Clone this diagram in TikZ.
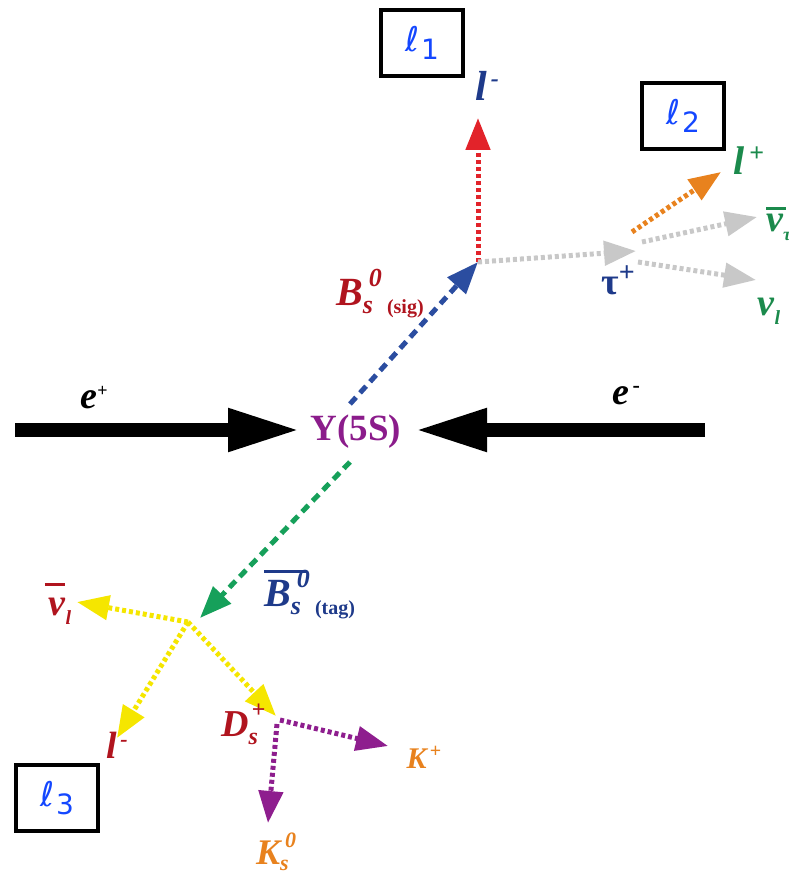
\documentclass[tikz,border=0pt]{standalone}
\usepackage{fontspec}
\setmainfont{Liberation Serif}
\newfontfamily\ellfont{DejaVu Sans}
\usetikzlibrary{arrows.meta}
\definecolor{dred}{HTML}{B0141E}
\definecolor{dblue}{HTML}{1E3A8A}
\definecolor{pgreen}{HTML}{1B8A4C}
\definecolor{porange}{HTML}{E8821E}
\definecolor{ppurple}{HTML}{8E1E8E}
\definecolor{pyellow}{HTML}{F5E600}
\definecolor{pgray}{HTML}{C8C8C8}
\definecolor{pred}{HTML}{E2232A}
\definecolor{dashblue}{HTML}{2B4DA0}
\definecolor{dashgreen}{HTML}{16A05A}
\definecolor{lblue}{HTML}{1447FF}
\definecolor{ypurple}{HTML}{8B1C8B}
\newcommand\fs[1]{\fontsize{#1}{#1}\selectfont}
\newcommand\ellsub[1]{{\itshape ℓ}\hspace{2pt}\raisebox{-8pt}{\upshape\fs{28}#1}}
\tikzset{
  dotln/.style={line width=5pt, dash pattern=on 4pt off 3pt},
  dashln/.style={line width=5pt, dash pattern=on 9pt off 6pt},
  tipx/.style={-{Triangle[length=32pt,width=24pt]}},
  lbl/.style={inner sep=0pt, font=\bfseries\itshape},
  lbox/.style={draw=black, line width=4.5pt, minimum width=82pt, minimum height=66pt, inner sep=0pt, font=\ellfont\fs{34}, text=lblue},
  beam/.style={line width=14pt, -{Triangle[length=72pt,width=40pt]}}
}
\begin{document}
\begin{tikzpicture}[x=1pt,y=-1pt]
\useasboundingbox (0,0) rectangle (788,874);
% boxes
\node[lbox] (L1) at (422,43) {\ellsub{1}};
\node[lbox] (L2) at (683,116) {\ellsub{2}};
\node[lbox] (L3) at (57,798) {\ellsub{3}};
% vertices
\coordinate (vsig) at (478,262);
\coordinate (vtau) at (636,251);
\coordinate (vtag) at (188,622);
\coordinate (vds) at (280,720);
% beams
\node[inner sep=0pt, text=ypurple, font=\bfseries\fs{37}] (Y) at (356,432) {Y(5S)};
\coordinate (beamL) at (15,430);
\coordinate (beamLt) at (300,430);
\coordinate (beamR) at (705,430);
\coordinate (beamRt) at (415,430);
\draw[beam] (beamL) -- (beamLt);
\draw[beam] (beamR) -- (beamRt);
\node[lbl, font=\bfseries\itshape\fs{38}] (ep) at (94,398) {e\raisebox{12pt}{\upshape\fs{18}+}};
\node[lbl, font=\bfseries\itshape\fs{38}] (em) at (626,396) {e\raisebox{12pt}{\upshape\fs{22}\,-}};
% signal side
\coordinate (sigstart) at (350,404);
\draw[dashln, dashblue, tipx] (sigstart) -- (vsig);
\coordinate (l1tip) at (478,118);
\draw[dotln, pred, tipx] (vsig) -- (l1tip);
\draw[dotln, pgray, tipx] (vsig) -- (vtau);
\coordinate (lpst) at (632,232);
\coordinate (lptip) at (721,172);
\draw[dotln, porange, tipx] (lpst) -- (lptip);
\coordinate (nutst) at (642,242);
\coordinate (nuttip) at (757,217);
\draw[dotln, pgray, tipx] (nutst) -- (nuttip);
\coordinate (nulst) at (638,262);
\coordinate (nultip) at (756,280);
\draw[dotln, pgray, tipx] (nulst) -- (nultip);
% signal labels
\node[lbl, text=dblue, font=\bfseries\itshape\fs{42}] (lm1) at (487,86) {l\raisebox{14pt}{\fs{24}\,-}};
\node[lbl, text=pgreen, font=\bfseries\itshape\fs{40}] (lp) at (749,161) {l\raisebox{13pt}{\upshape\fs{26}\,+}};
\node[lbl, text=dblue, font=\bfseries\fs{38}] (tau) at (618,280) {τ\raisebox{13pt}{\fs{28}+}};
\node[lbl, text=pgreen, font=\bfseries\itshape\fs{38}, anchor=west] (nutau) at (766,224) {\makebox[0pt][l]{\raisebox{22pt}{\rule{20pt}{2.5pt}}}ν\raisebox{-9pt}{\fs{18}τ}};
\node[lbl, text=pgreen, font=\bfseries\itshape\fs{38}] (nul) at (769,311) {ν\raisebox{-9pt}{\fs{20}l}};
\node[lbl, text=dred, font=\bfseries\itshape\fs{40}, anchor=base west] (Bsig) at (336,305) {B\fs{26}\makebox[0pt][l]{\raisebox{19pt}{\hspace{6pt}0}}\raisebox{-8pt}{s}\hspace{14pt}\raisebox{-8pt}{\upshape\fs{20}(sig)}};
% tag side
\coordinate (tagstart) at (350,462);
\draw[dashln, dashgreen, tipx] (tagstart) -- (200,618);
\coordinate (nbtip) at (77,602);
\coordinate (lmtip) at (117,738);
\coordinate (dstip) at (276,716);
\draw[dotln, pyellow, tipx] (vtag) -- (nbtip);
\draw[dotln, pyellow, tipx] (vtag) -- (lmtip);
\draw[dotln, pyellow, tipx] (vtag) -- (dstip);
\coordinate (kptip) at (388,746);
\coordinate (k0tip) at (268,823);
\coordinate (vds2) at (277,724);
\draw[dotln, ppurple, tipx] (vds) -- (kptip);
\draw[dotln, ppurple, tipx] (vds2) -- (k0tip);
% tag labels
\node[lbl, text=dblue, font=\bfseries\itshape\fs{40}, anchor=base west] (Btag) at (264,606) {\makebox[0pt][l]{\raisebox{33pt}{\rule{42pt}{3pt}}}B\fs{26}\makebox[0pt][l]{\raisebox{19pt}{\hspace{6pt}0}}\raisebox{-8pt}{s}\hspace{14pt}\raisebox{-8pt}{\upshape\fs{20}(tag)}};
\node[lbl, text=dred, font=\bfseries\itshape\fs{38}] (nubar) at (60,604) {\makebox[0pt][l]{\raisebox{30pt}{\hspace{-4pt}\rule{20pt}{2.5pt}}}ν\raisebox{-9pt}{\fs{20}l}};
\node[lbl, text=dred, font=\bfseries\itshape\fs{38}] (lm3) at (117,745) {l\raisebox{12pt}{\fs{22}\,-}};
\node[lbl, text=dred, font=\bfseries\itshape\fs{38}, anchor=base west] (Ds) at (221,736) {D\fs{24}\makebox[0pt][l]{\raisebox{19pt}{\hspace{3pt}+}}\raisebox{-8pt}{s}};
\node[lbl, text=porange, font=\bfseries\itshape\fs{30}] (Kp) at (424,757) {K\raisebox{11pt}{\upshape\fs{20}\,+}};
\node[lbl, text=porange, font=\bfseries\itshape\fs{36}, anchor=base west] (K0) at (256,864) {K\fs{22}\makebox[0pt][l]{\raisebox{17pt}{\hspace{5pt}0}}\raisebox{-6pt}{s}};
\end{tikzpicture}
\end{document}
